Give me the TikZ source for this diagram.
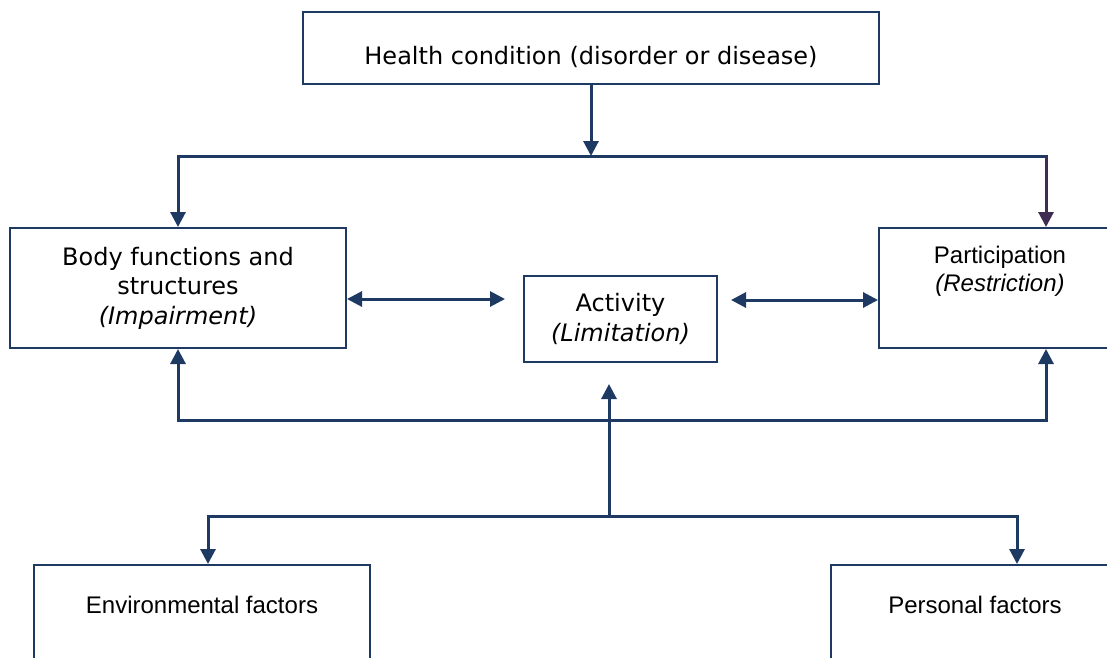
\documentclass[tikz,border=0pt]{standalone}
\usepackage{fontspec}
\setmainfont{DejaVu Sans}
\newfontfamily\arialfont{Liberation Sans}
\usetikzlibrary{arrows.meta}
\definecolor{navy}{RGB}{30,57,98}
\definecolor{plum}{RGB}{62,44,82}

\begin{document}
\begin{tikzpicture}[x=1pt,y=-1pt,
    box/.style={draw=navy,line width=2pt,align=center,inner sep=0pt,
      font=\fontsize{24}{29.5}\selectfont},
    arialtext/.style={align=center,font=\arialfont\fontsize{24}{27.5}\selectfont},
    link/.style={draw=navy,line width=3pt,line cap=rect,
      -{Triangle[length=15pt,width=15pt]}},
    both/.style={link,{Triangle[length=15pt,width=15pt]}-{Triangle[length=15pt,width=15pt]}}]
      \useasboundingbox (0,0) rectangle (1107,657);
      \node[box,minimum width=576pt,minimum height=72pt,text height=36pt] (health) at (591,48)
        {Health condition (disorder or disease)};
      \node[box,minimum width=336pt,minimum height=120pt] (body) at (178,288)
        {Body functions and\\structures\\\textit{(Impairment)}};
      \node[box,minimum width=193pt,minimum height=86pt] (act) at (620.5,319)
        {Activity\\\textit{(Limitation)}};
      \node[box,minimum width=242pt,minimum height=120pt,
        label={[arialtext,below=16pt]north:{Participation\\\textit{(Restriction)}}}] (part) at (1000,288) {};
      \node[box,minimum width=336pt,minimum height=120pt,
        label={[arialtext,below=29pt]north:Environmental factors}] (env) at (202,625) {};
      \node[box,minimum width=288pt,minimum height=120pt,
        label={[arialtext,below=29pt]north:Personal factors}] (pers) at (975,625) {};
      \coordinate (top) at (591,156);
      \coordinate (topL) at (178,156);
      \coordinate (topR) at (1046,156);
      \coordinate (midL) at (178,420);
      \coordinate (midR) at (1046,420);
      \coordinate (stem) at (609,516);
      \coordinate (up) at (609,384);
      \coordinate (lowL) at (208,516);
      \coordinate (lowR) at (1017,516);
      \coordinate (actL) at (505,299);
      \coordinate (actR) at (731,300);
      \draw[link] (health) -- (top);
      \draw[link] (topR) -- (topL) -- (body);
      \draw[link,draw=plum] (topR) -- (topR |- part.north);
      \draw[both] ([yshift=-11pt]body.east) -- (actL);
      \draw[both] (actR) -- ([yshift=-12pt]part.west);
      \draw[link] (midR) -- (midL) -- (body);
      \draw[link] (midL) -- (midR) -- (midR |- part.south);
      \draw[link] (stem) -- (up);
      \draw[link] (lowR) -- (lowL) -- (lowL |- env.north);
      \draw[link] (lowL) -- (lowR) -- (lowR |- pers.north);
    \end{tikzpicture}
\end{document}
